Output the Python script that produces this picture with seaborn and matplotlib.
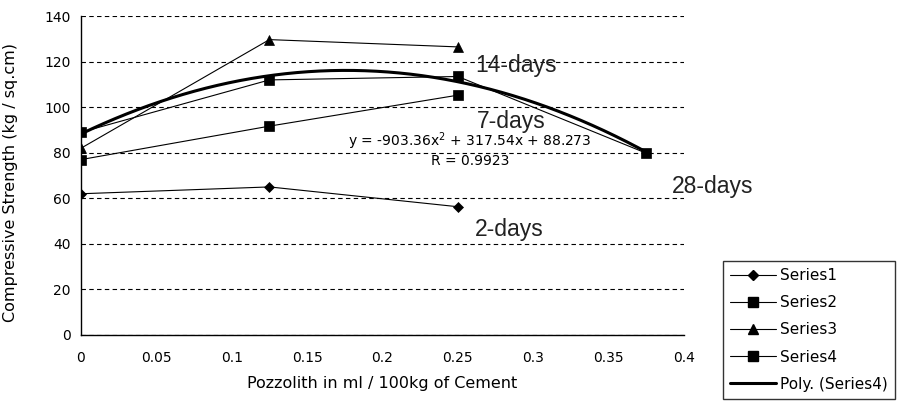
import numpy as np
import pandas as pd
import matplotlib
matplotlib.use("Agg")
import matplotlib.pyplot as plt
from matplotlib.lines import Line2D
import seaborn as sns

# Pozzolith dosage (ml / 100 kg of cement)
dosage = [0.0, 0.125, 0.25]
dosage_28 = [0.0, 0.125, 0.25, 0.375]

# Compressive strength (kg / sq.cm) per curing age
series1 = [62.0, 65.0, 56.3]          # 2 days
series2 = [77.0, 91.7, 105.3]         # 7 days
series3 = [82.0, 129.7, 126.5]        # 14 days
series4 = [89.0, 112.0, 113.5, 79.8]  # 28 days

# Polynomial trend of Series4: y = a x^2 + b x + c
poly_coef = [-903.36, 317.54, 88.273]
r_value = 0.9923

series_names = ["Series1", "Series2", "Series3", "Series4", "Poly. (Series4)"]
age_labels = ["14-days", "7-days", "28-days", "2-days"]
x_ticks = [0, 0.05, 0.1, 0.15, 0.2, 0.25, 0.3, 0.35, 0.4]
y_ticks = [0, 20, 40, 60, 80, 100, 120, 140]

sns.set_style("white")
plt.rcParams["font.family"] = ["DejaVu Sans"]
plt.rcParams["text.color"] = "black"
plt.rcParams["axes.labelcolor"] = "black"

fig = plt.figure(figsize=(8.99, 4.04), dpi=100)
ax = fig.add_axes([0.0901, 0.171, 0.6707, 0.789])

markers = ["D", "s", "^", "s"]
msizes = [5.5, 6.5, 7.0, 6.5]
for ys, xs, m, ms in zip([series1, series2, series3, series4],
                         [dosage, dosage, dosage, dosage_28], markers, msizes):
    sns.lineplot(x=xs, y=ys, ax=ax, color="black", linewidth=0.8,
                 marker=m, markersize=ms, markeredgecolor="black",
                 markerfacecolor="black", markeredgewidth=0.5)

# Trend curve evaluated from the stated coefficients
x_fit = np.linspace(0, dosage_28[-1], 200)
y_fit = np.polyval(poly_coef, x_fit)
sns.lineplot(x=x_fit, y=y_fit, ax=ax, color="black", linewidth=2.2)

ax.set_xlim(0, 0.4)
ax.set_ylim(0, 140)
ax.set_xticks(x_ticks)
ax.set_xticklabels([f"{t:g}" for t in x_ticks])
ax.set_yticks(y_ticks)
ax.yaxis.grid(True, linestyle=(0, (4, 3)), color="black", linewidth=0.8)
ax.xaxis.grid(False)
ax.set_axisbelow(True)
for s in ["top", "right"]:
    ax.spines[s].set_visible(False)
for s in ["left", "bottom"]:
    ax.spines[s].set_color("black")
    ax.spines[s].set_linewidth(1.0)
ax.tick_params(axis="both", direction="inout", length=7, width=1.0,
               color="black", labelsize=10, labelcolor="black")
ax.tick_params(axis="x", pad=8)
ax.tick_params(axis="y", pad=4)

ax.set_xlabel("Pozzolith in ml / 100kg of Cement", fontsize=11.5, labelpad=8)
ax.set_ylabel("Compressive Strength (kg / sq.cm)", fontsize=11.5)
ax.yaxis.set_label_coords(-0.104, 0.478)

# Equation and correlation of the trend
eq = (f"y = {poly_coef[0]:.2f}x$^2$ + {poly_coef[1]:.2f}x + {poly_coef[2]:.3f}")
ax.text(0.258, 85.0, eq, fontsize=10, ha="center", va="center")
ax.text(0.258, 76.5, f"R = {r_value:.4f}", fontsize=10, ha="center", va="center")

# Curing age labels
age_pos = [(0.2614, 118.5), (0.2627, 93.8), (0.392, 65.4), (0.2614, 46.1)]
for lab, (xp, yp) in zip(age_labels, age_pos):
    ax.text(xp, yp, lab, fontsize=16.5, family=["Liberation Sans"],
            ha="left", va="center", color="#222222", clip_on=False)

handles = [
    Line2D([], [], color="black", lw=0.8, marker="D", markersize=5.5),
    Line2D([], [], color="black", lw=0.8, marker="s", markersize=6.5),
    Line2D([], [], color="black", lw=0.8, marker="^", markersize=7),
    Line2D([], [], color="black", lw=0.8, marker="s", markersize=6.5),
    Line2D([], [], color="black", lw=2.2),
]
leg = fig.legend(handles, series_names, loc="upper left",
                 bbox_to_anchor=(0.804, 0.354), fontsize=11,
                 frameon=True, fancybox=False, edgecolor="black",
                 handlelength=3.0, handletextpad=0.3, labelspacing=0.8,
                 borderpad=0.45, borderaxespad=0.0)
leg.get_frame().set_linewidth(1.0)

fig.savefig("out.png", dpi=100)
